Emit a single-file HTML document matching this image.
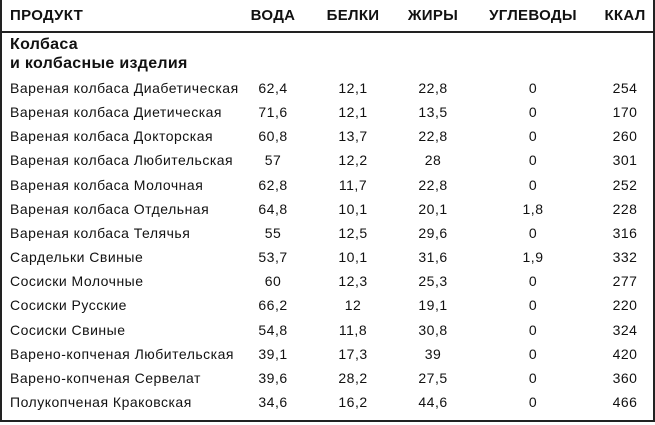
<!DOCTYPE html>
<html><head><meta charset="utf-8"><style>
body{margin:0;width:655px;height:425px;background:#fff;font-family:"Liberation Sans",sans-serif;color:#111;position:relative;overflow:hidden}
.box{position:absolute;left:0;top:0;width:651px;height:420px;border:2px solid #222;border-top:none}
.hl{position:absolute;left:0;top:31px;width:655px;height:2px;background:#222}
.t{position:absolute;font-size:14px;white-space:nowrap;line-height:16px;letter-spacing:0.5px}
.c{transform:translateX(-50%)}
.h{font-weight:bold;font-size:15px;letter-spacing:0.3px}
</style></head><body>
<div class="box"></div><div class="hl"></div>
<div class="t h" style="left:10px;top:8px">ПРОДУКТ</div>
<div class="t h c" style="left:273px;top:8px">ВОДА</div>
<div class="t h c" style="left:353px;top:8px">БЕЛКИ</div>
<div class="t h c" style="left:433px;top:8px">ЖИРЫ</div>
<div class="t h c" style="left:533px;top:8px">УГЛЕВОДЫ</div>
<div class="t h c" style="left:625px;top:8px">ККАЛ</div>
<div class="t h" style="left:10px;top:37px;font-size:16px">Колбаса</div>
<div class="t h" style="left:10px;top:56px;font-size:16px">и колбасные изделия</div>
<div id="rows"></div>
<script>
var d=[["Вареная колбаса Диабетическая","62,4","12,1","22,8","0","254"],
["Вареная колбаса Диетическая","71,6","12,1","13,5","0","170"],
["Вареная колбаса Докторская","60,8","13,7","22,8","0","260"],
["Вареная колбаса Любительская","57","12,2","28","0","301"],
["Вареная колбаса Молочная","62,8","11,7","22,8","0","252"],
["Вареная колбаса Отдельная","64,8","10,1","20,1","1,8","228"],
["Вареная колбаса Телячья","55","12,5","29,6","0","316"],
["Сардельки Свиные","53,7","10,1","31,6","1,9","332"],
["Сосиски Молочные","60","12,3","25,3","0","277"],
["Сосиски Русские","66,2","12","19,1","0","220"],
["Сосиски Свиные","54,8","11,8","30,8","0","324"],
["Варено-копченая Любительская","39,1","17,3","39","0","420"],
["Варено-копченая Сервелат","39,6","28,2","27,5","0","360"],
["Полукопченая Краковская","34,6","16,2","44,6","0","466"]];
var xs=[273,353,433,533,625],h="";
d.forEach(function(r,i){var y=80+i*24.15;
h+='<div class="t" style="left:10px;top:'+y+'px">'+r[0]+'</div>';
for(var j=1;j<6;j++)h+='<div class="t c" style="left:'+xs[j-1]+'px;top:'+y+'px">'+r[j]+'</div>';});
document.getElementById("rows").innerHTML=h;
</script>
</body></html>
